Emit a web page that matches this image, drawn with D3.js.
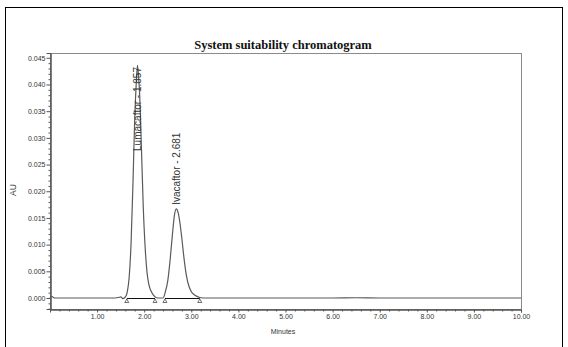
<!DOCTYPE html>
<html><head><meta charset="utf-8">
<script src="https://cdn.jsdelivr.net/npm/d3@7"></script>
<style>body{margin:0;background:#fff;} svg{display:block;}</style>
</head><body>
<script>
// ---- data ----
const times = [0.00,0.03,0.06,0.10,0.30,0.60,1.00,1.30,1.45,1.50,1.55,1.60,1.64,1.68,1.72,1.76,1.80,1.83,1.857,1.88,1.90,1.94,1.98,2.02,2.06,2.10,2.15,2.20,2.25,2.32,2.40,2.45,2.50,2.55,2.60,2.64,2.681,2.72,2.76,2.80,2.85,2.90,2.95,3.00,3.05,3.10,3.18,3.30,4.00,5.00,6.00,6.50,7.00,8.00,9.00,10.00];
const signal = [0.0000,0.0003,0.0002,0.0000,0.0000,0.0000,0.0000,0.0000,0.0001,0.0002,-0.0001,0.0002,0.0011,0.0038,0.0100,0.0210,0.0340,0.0400,0.0436,0.0415,0.0388,0.0284,0.0171,0.0095,0.0048,0.0025,0.0012,0.0005,0.0001,0.0000,0.0000,0.0012,0.0032,0.0071,0.0120,0.0154,0.0167,0.0160,0.0140,0.0111,0.0071,0.0040,0.0022,0.0012,0.0007,0.0004,0.0001,0.0000,0.0000,0.0000,0.0000,0.00005,0.0000,0.0000,0.0000,0.0000];
const peakNames = ["Lumacaftor", "Ivacaftor"];
const peakTimes = [1.857, 2.681];
const peakHeights = [0.0436, 0.0167];
const peakStarts = [1.63, 2.44];
const peakEnds = [2.23, 3.18];
const xTicks = [1,2,3,4,5,6,7,8,9,10];
const yTicks = [0,0.005,0.010,0.015,0.020,0.025,0.030,0.035,0.040,0.045];
const titleText = "System suitability chromatogram";
const xLabel = "Minutes";
const yLabel = "AU";

(function () {
const W = 568, H = 347;
const mL = 50, mR = 521, mT = 53, mB = 309;
const svg = d3.select("body").append("svg").attr("width", W).attr("height", H);

svg.append("rect").attr("x", 5.5).attr("y", 7.5).attr("width", 557).attr("height", 345)
  .attr("fill", "none").attr("stroke", "#000").attr("stroke-width", 1);

const x = d3.scaleLinear().domain([0, 10]).range([mL, mR]);
const y = d3.scaleLinear().domain([-0.00206, 0.0459]).range([mB, mT]);

svg.append("rect").attr("x", mL + 0.5).attr("y", mT + 0.5)
  .attr("width", mR - mL).attr("height", mB - mT)
  .attr("fill", "none").attr("stroke", "#8a8a8a").attr("stroke-width", 1);

svg.append("text").attr("x", 283).attr("y", 49).attr("text-anchor", "middle")
  .attr("font-family", "Liberation Serif, Times New Roman, serif").attr("font-weight", "bold")
  .attr("font-size", 12.5).attr("fill", "#111").text(titleText);

const tickFont = "Liberation Sans, Arial, sans-serif";

const yMinor = d3.range(-0.002, 0.0455, 0.001).filter(v => Math.abs(Math.round(v * 1000) % 5) !== 0);
const yAx = svg.append("g").attr("transform", `translate(${mL + 0.5},0)`);
yAx.call(d3.axisLeft(y).tickValues(yMinor).tickSize(2).tickFormat(""));
yAx.append("g").call(d3.axisLeft(y).tickValues(yTicks).tickSize(4).tickFormat(d3.format(".3f")));
yAx.selectAll(".domain").attr("stroke", "#555");
yAx.selectAll(".tick line").attr("stroke", "#555");
yAx.selectAll(".tick text").attr("font-family", tickFont).attr("font-size", 7).attr("fill", "#333").attr("x", -5);

const xMinor = d3.range(0.2, 10, 0.2).filter(v => Math.abs(v - Math.round(v)) > 0.01);
const xAx = svg.append("g").attr("transform", `translate(0,${mB + 0.5})`);
xAx.call(d3.axisBottom(x).tickValues(xMinor).tickSize(2).tickFormat(""));
xAx.append("g").call(d3.axisBottom(x).tickValues(xTicks).tickSize(3).tickFormat(d3.format(".2f")));
xAx.selectAll(".domain").attr("stroke", "#555");
xAx.selectAll(".tick line").attr("stroke", "#555");
xAx.selectAll(".tick text").attr("font-family", tickFont).attr("font-size", 7).attr("fill", "#333").attr("y", 5);

svg.append("text").attr("x", 283).attr("y", 334).attr("text-anchor", "middle")
  .attr("font-family", tickFont).attr("font-size", 7).attr("fill", "#333").text(xLabel);
svg.append("text").attr("transform", `translate(16,190) rotate(-90)`).attr("text-anchor", "middle")
  .attr("font-family", tickFont).attr("font-size", 8.5).attr("fill", "#333").text(yLabel);

const g = svg.append("g");
const pts = times.map((t, i) => [t, signal[i]]);
g.append("path").datum(pts)
  .attr("d", d3.line().x(d => x(d[0])).y(d => y(d[1])).curve(d3.curveMonotoneX))
  .attr("fill", "none").attr("stroke", "#5a5a5a").attr("stroke-width", 1.2);

peakStarts.forEach((s, i) => {
  g.append("line").attr("x1", x(s)).attr("x2", x(peakEnds[i]))
    .attr("y1", y(0) + 0.5).attr("y2", y(0) + 0.5).attr("stroke", "#111").attr("stroke-width", 1);
  [s, peakEnds[i]].forEach(t => {
    const cx = x(t), cy = y(0) + 1;
    g.append("path").attr("d", `M${cx},${cy} L${cx - 2},${cy + 3.5} L${cx + 2},${cy + 3.5} Z`)
      .attr("fill", "none").attr("stroke", "#333").attr("stroke-width", 0.7);
  });
});

peakNames.forEach((n, i) => {
  const label = `${n} - ${peakTimes[i].toFixed(3)}`;
  const t = g.append("text").attr("font-family", tickFont).attr("font-size", 10).attr("fill", "#333").text(label);
  const len = t.node().getComputedTextLength();
  const start = Math.max(y(peakHeights[i]) - 4, mT + 14 + len);
  t.attr("transform", `translate(${x(peakTimes[i]) + 4},${start}) rotate(-90)`);
});
})();
</script>
</body></html>
